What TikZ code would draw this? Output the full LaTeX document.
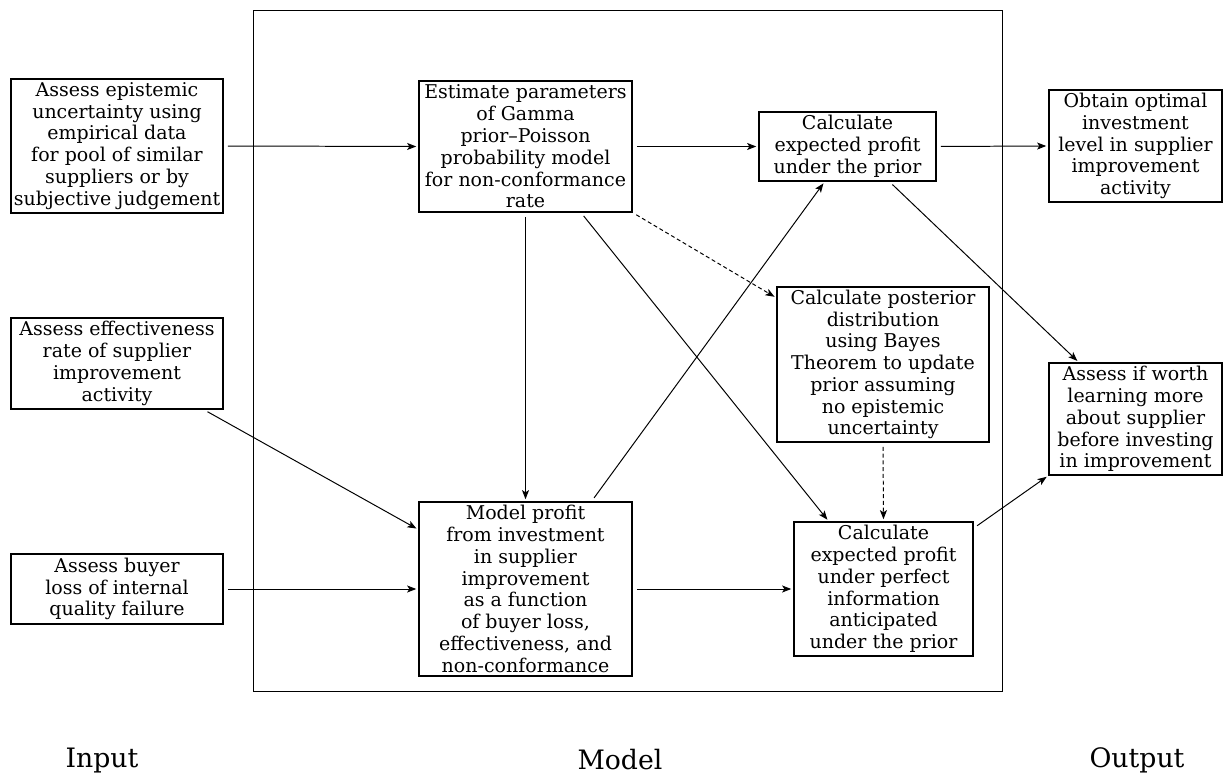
\documentclass[tikz,border=0pt]{standalone}
\usepackage{fontspec}
\setmainfont{DejaVu Serif}
\usepackage{tikz}
\usetikzlibrary{positioning,arrows.meta}
\tikzset{
  procbox/.style={rectangle, draw, line width=0.9pt, inner sep=0.5pt, align=center,
                  font=\fontsize{13.5}{15.5}\selectfont},
  fwd/.style={-{Stealth[length=6.5pt,width=5pt,inset=1.6pt]}, line width=0.7pt,
              shorten <=3pt, shorten >=1.5pt},
  upd/.style={fwd, dash pattern=on 2.8pt off 2pt}, % dotted-looking link
  stage/.style={anchor=base, font=\fontsize{19}{23}\selectfont},
}

\begin{document}
\begin{tikzpicture}[x=0.025cm,y=-0.025cm]
  \useasboundingbox (0,0) rectangle (1225,774);
  \draw[line width=0.7pt] (253,10) rectangle (1002,691);

  % input column
  \node[procbox, minimum width=5.3cm, minimum height=3.35cm] (in1) at (117,146)
    {Assess epistemic\\uncertainty using\\empirical data\\for pool of similar\\suppliers or by\\subjective judgement};
  \node[procbox, minimum width=5.3cm, minimum height=2.275cm] (in2) at (117,363.5)
    {Assess effectiveness\\rate of supplier\\improvement\\activity};
  \node[procbox, minimum width=5.3cm, minimum height=1.75cm] (in3) at (117,589)
    {Assess buyer\\loss of internal\\quality failure};

  % model
  \node[procbox, minimum width=5.325cm, minimum height=3.275cm] (est) at (525.5,146.5)
    {Estimate parameters\\of Gamma\\prior--Poisson\\probability model\\for non-conformance\\rate};
  \node[procbox, minimum width=5.325cm, minimum height=4.35cm] (model) at (525.5,589)
    {Model profit\\from investment\\in supplier\\improvement\\as a function\\of buyer loss,\\effectiveness, and\\non-conformance};
  \node[procbox, minimum width=4.425cm, minimum height=1.725cm] (prior) at (847.5,146.5)
    {Calculate\\expected profit\\under the prior};
  \node[procbox, minimum width=5.3cm, minimum height=3.875cm] (post) at (883,364.5)
    {Calculate posterior\\distribution\\using Bayes\\Theorem to update\\prior assuming\\no epistemic\\uncertainty};
  \node[procbox, minimum width=4.475cm, minimum height=3.35cm] (perf) at (883.5,589)
    {Calculate\\expected profit\\under perfect\\information\\anticipated\\under the prior};

  % output column
  \node[procbox, minimum width=4.325cm, minimum height=2.8cm] (out1) at (1135.5,146)
    {Obtain optimal\\investment\\level in supplier\\improvement\\activity};
  \node[procbox, minimum width=4.325cm, minimum height=2.8cm] (out2) at (1135.5,419)
    {Assess if worth\\learning more\\about supplier\\before investing\\in improvement};

  \node[stage] (inlab) at (102,767) {Input};
  \node[stage] (modlab) at (620,769) {Model};
  \node[stage] (outlab) at (1137,767) {Output};

  \draw[fwd] (in1.east) -- (est.west);
  \draw[fwd] (est.east) -- (prior.west);
  \draw[fwd] (prior.east) -- (out1.west);
  \draw[fwd] (est.south) -- (model.north);
  \draw[fwd] (est.-50) -- (perf.129.5);
  \draw[upd] (est.south east) -- (post.148);
  \draw[fwd] (model.53) -- (prior.-123);
  \draw[fwd] (in2.-28.4) -- (model.151);
  \draw[fwd] (in3.east) -- (model.west);
  \draw[fwd] (model.east) -- (perf.west);
  \draw[upd] (post.south) -- (perf.north);
  \draw[fwd] (prior.-40.4) -- (out2.135);
  \draw[fwd] (perf.34) -- (out2.-147);
\end{tikzpicture}
\end{document}
